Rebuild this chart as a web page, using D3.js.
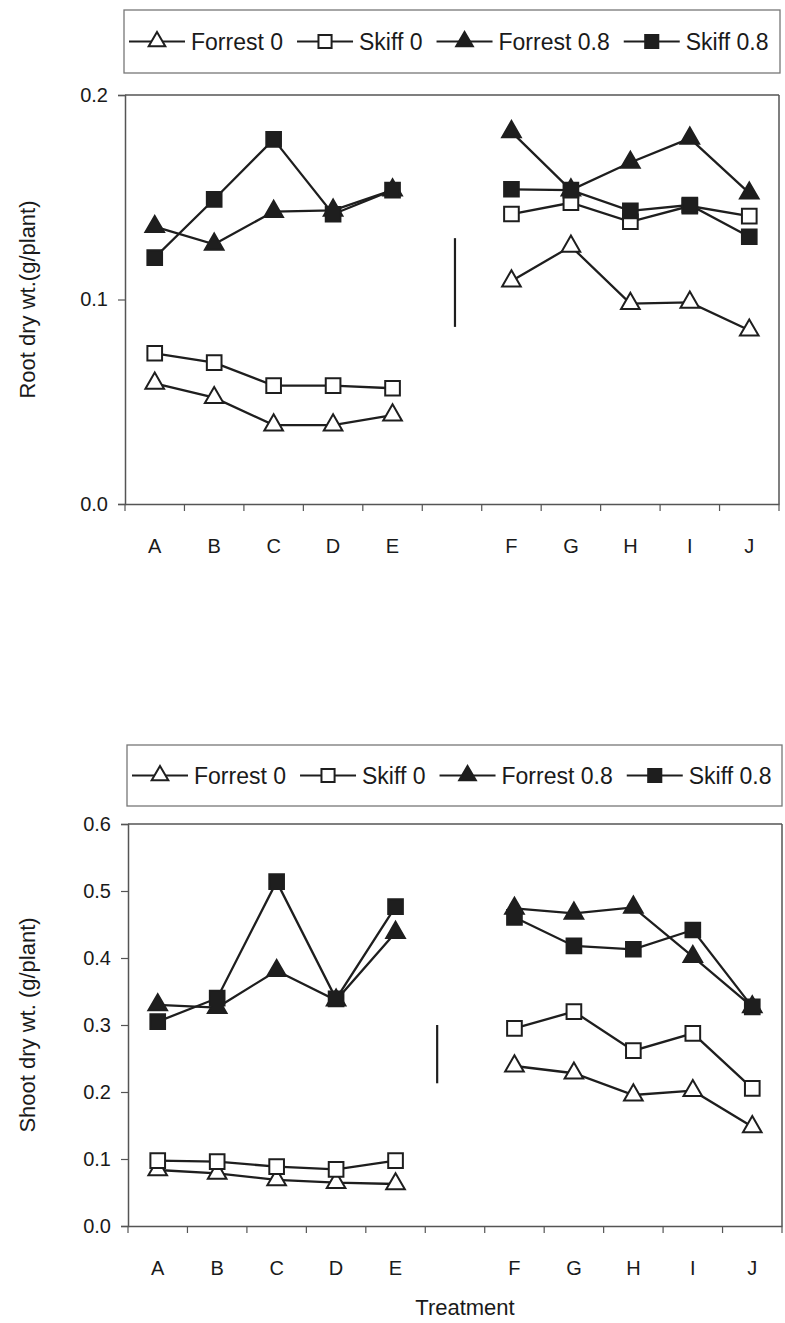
<!DOCTYPE html>
<html>
<head>
<meta charset="utf-8">
<script src="https://cdn.jsdelivr.net/npm/d3@7"></script>
<style>
  body { margin: 0; background: #fff; }
  text { font-family: "Liberation Sans", Arial, sans-serif; fill: #1a1a1a; }
</style>
</head>
<body>
<div id="chart"></div>
<script>
// categorias (el hueco entre E y F es una posicion vacia)
const slots = ["A", "B", "C", "D", "E", "", "F", "G", "H", "I", "J"];
const leftCats = ["A", "B", "C", "D", "E"];
const rightCats = ["F", "G", "H", "I", "J"];
const seriesNames = ["Forrest 0", "Skiff 0", "Forrest 0.8", "Skiff 0.8"];

// raiz (g/planta), A..J
const rootForrest0 = [0.059, 0.052, 0.0386, 0.0386, 0.0435, 0.109, 0.126, 0.098, 0.0986, 0.085];
const rootSkiff0 = [0.0737, 0.0691, 0.0579, 0.0579, 0.0566, 0.1418, 0.1473, 0.138, 0.1457, 0.1408];
const rootForrest08 = [0.1356, 0.127, 0.143, 0.1436, 0.1535, 0.182, 0.1535, 0.167, 0.1788, 0.152];
const rootSkiff08 = [0.1205, 0.149, 0.1783, 0.1417, 0.1535, 0.1539, 0.1535, 0.1433, 0.1462, 0.1307];
const rootTicks = [0, 0.1, 0.2];
const rootLsd = [0.0866, 0.130];

// parte aerea (g/planta), A..J
const shootForrest0 = [0.0836, 0.0786, 0.0687, 0.0647, 0.0627, 0.2388, 0.228, 0.1955, 0.202, 0.148];
const shootSkiff0 = [0.0975, 0.096, 0.0886, 0.0846, 0.0975, 0.295, 0.32, 0.2617, 0.2876, 0.2055];
const shootForrest08 = [0.330, 0.326, 0.381, 0.337, 0.438, 0.474, 0.4667, 0.4756, 0.402, 0.327];
const shootSkiff08 = [0.305, 0.340, 0.514, 0.339, 0.4766, 0.4607, 0.418, 0.413, 0.4418, 0.327];
const shootTicks = [0, 0.1, 0.2, 0.3, 0.4, 0.5, 0.6];
const shootLsd = [0.213, 0.300];

const cats = leftCats.concat(rightCats);
const ink = "#1e1e1e";
const frame = "#555";

const svg = d3.select("#chart")
  .append("svg")
  .attr("width", 785)
  .attr("height", 1323);

// estilo de cada serie
const styles = {
  "Forrest 0": { shape: d3.symbolTriangle, fill: "#fff", size: 150 },
  "Skiff 0": { shape: d3.symbolSquare, fill: "#fff", size: 215 },
  "Forrest 0.8": { shape: d3.symbolTriangle, fill: ink, size: 150 },
  "Skiff 0.8": { shape: d3.symbolSquare, fill: ink, size: 215 }
};

function drawLegend(g, box) {
  g.append("rect")
    .attr("x", box.x).attr("y", box.y)
    .attr("width", box.w).attr("height", box.h)
    .attr("fill", "#fff").attr("stroke", "#777").attr("stroke-width", 1.3);

  let cx = box.x + 5;
  const cy = box.y + box.h / 2;
  seriesNames.forEach(name => {
    const st = styles[name];
    g.append("line")
      .attr("x1", cx).attr("x2", cx + 56)
      .attr("y1", cy).attr("y2", cy)
      .attr("stroke", ink).attr("stroke-width", 2.2);
    g.append("path")
      .attr("d", d3.symbol().type(st.shape).size(st.size * 0.8)())
      .attr("transform", `translate(${cx + 28},${cy})`)
      .attr("fill", st.fill).attr("stroke", ink).attr("stroke-width", 2);
    const t = g.append("text")
      .attr("x", cx + 62).attr("y", cy)
      .attr("dy", "0.35em")
      .style("font-size", "23px")
      .text(name);
    cx += 62 + t.node().getComputedTextLength() + 14;
  });
}

function drawPanel(cfg) {
  const g = svg.append("g");
  const x = d3.scaleBand().domain(slots).range([cfg.left, cfg.right]).padding(0);
  const y = d3.scaleLinear().domain([0, cfg.ticks[cfg.ticks.length - 1]]).range([cfg.bottom, cfg.top]);

  drawLegend(g, cfg.legend);

  // marco superior y derecho
  g.append("line")
    .attr("x1", cfg.left).attr("x2", cfg.right)
    .attr("y1", cfg.top).attr("y2", cfg.top)
    .attr("stroke", frame).attr("stroke-width", 1.5);
  g.append("line")
    .attr("x1", cfg.right).attr("x2", cfg.right)
    .attr("y1", cfg.top).attr("y2", cfg.bottom)
    .attr("stroke", frame).attr("stroke-width", 1.5);

  // eje y
  const yAxis = g.append("g")
    .attr("transform", `translate(${cfg.left},0)`)
    .call(d3.axisLeft(y).tickValues(cfg.ticks).tickFormat(d3.format(".1f")).tickSize(7).tickPadding(10));
  yAxis.select(".domain").attr("stroke", frame).attr("stroke-width", 1.5);
  yAxis.selectAll(".tick line").attr("stroke", frame).attr("stroke-width", 1.2);
  yAxis.selectAll(".tick text")
    .style("font-size", "20px")
    .style("font-family", "'Liberation Sans', Arial, sans-serif")
    .attr("fill", ink);

  // eje x: marcas en los limites de cada categoria
  const xAxis = g.append("g")
    .attr("transform", `translate(0,${cfg.bottom})`)
    .call(d3.axisBottom(x).tickSize(0).tickPadding(35));
  xAxis.select(".domain").attr("stroke", frame).attr("stroke-width", 1.5);
  xAxis.selectAll(".tick text")
    .style("font-size", "20px")
    .style("font-family", "'Liberation Sans', Arial, sans-serif")
    .attr("fill", ink);

  g.selectAll(".xtick")
    .data(d3.range(slots.length + 1))
    .enter().append("line")
    .attr("x1", i => cfg.left + i * x.step())
    .attr("x2", i => cfg.left + i * x.step())
    .attr("y1", cfg.bottom).attr("y2", cfg.bottom + 7)
    .attr("stroke", frame).attr("stroke-width", 1.2);

  // titulo del eje y
  g.append("text")
    .attr("transform", "rotate(-90)")
    .attr("x", -(cfg.top + cfg.bottom) / 2)
    .attr("y", 27)
    .attr("dy", "0.35em")
    .style("text-anchor", "middle")
    .style("font-size", "22px")
    .text(cfg.yTitle);

  if (cfg.xTitle) {
    g.append("text")
      .attr("x", x("") + x.bandwidth() / 2 + 10)
      .attr("y", cfg.bottom + 81)
      .attr("dy", "0.35em")
      .style("text-anchor", "middle")
      .style("font-size", "22px")
      .text(cfg.xTitle);
  }

  // barra LSD en el hueco
  const lx = x("") + x.bandwidth() * cfg.lsdAt;
  g.append("line")
    .attr("x1", lx).attr("x2", lx)
    .attr("y1", y(cfg.lsd[0])).attr("y2", y(cfg.lsd[1]))
    .attr("stroke", ink).attr("stroke-width", 2.2);

  const line = d3.line()
    .x(d => x(d.cat) + x.bandwidth() / 2)
    .y(d => y(d.v));

  seriesNames.forEach((name, si) => {
    const pts = cats.map((c, i) => ({ cat: c, v: cfg.series[si][i] }));
    [pts.slice(0, 5), pts.slice(5)].forEach(seg => {
      g.append("path")
        .datum(seg)
        .attr("fill", "none")
        .attr("stroke", ink)
        .attr("stroke-width", 2.3)
        .attr("d", line);
    });
  });

  seriesNames.forEach((name, si) => {
    const st = styles[name];
    const pts = cats.map((c, i) => ({ cat: c, v: cfg.series[si][i] }));
    g.selectAll(`.m${si}`)
      .data(pts)
      .enter().append("path")
      .attr("d", d3.symbol().type(st.shape).size(st.size)())
      .attr("transform", d => `translate(${x(d.cat) + x.bandwidth() / 2},${y(d.v)})`)
      .attr("fill", st.fill)
      .attr("stroke", ink)
      .attr("stroke-width", 2);
  });
}

drawPanel({
  left: 125, right: 779, top: 95, bottom: 504,
  legend: { x: 124, y: 10, w: 656, h: 63 },
  ticks: rootTicks,
  series: [rootForrest0, rootSkiff0, rootForrest08, rootSkiff08],
  lsd: rootLsd, lsdAt: 0.55,
  yTitle: "Root dry wt.(g/plant)"
});

drawPanel({
  left: 128, right: 782, top: 824, bottom: 1226,
  legend: { x: 127, y: 745, w: 655, h: 61 },
  ticks: shootTicks,
  series: [shootForrest0, shootSkiff0, shootForrest08, shootSkiff08],
  lsd: shootLsd, lsdAt: 0.2,
  yTitle: "Shoot dry wt. (g/plant)",
  xTitle: "Treatment"
});
</script>
</body>
</html>
